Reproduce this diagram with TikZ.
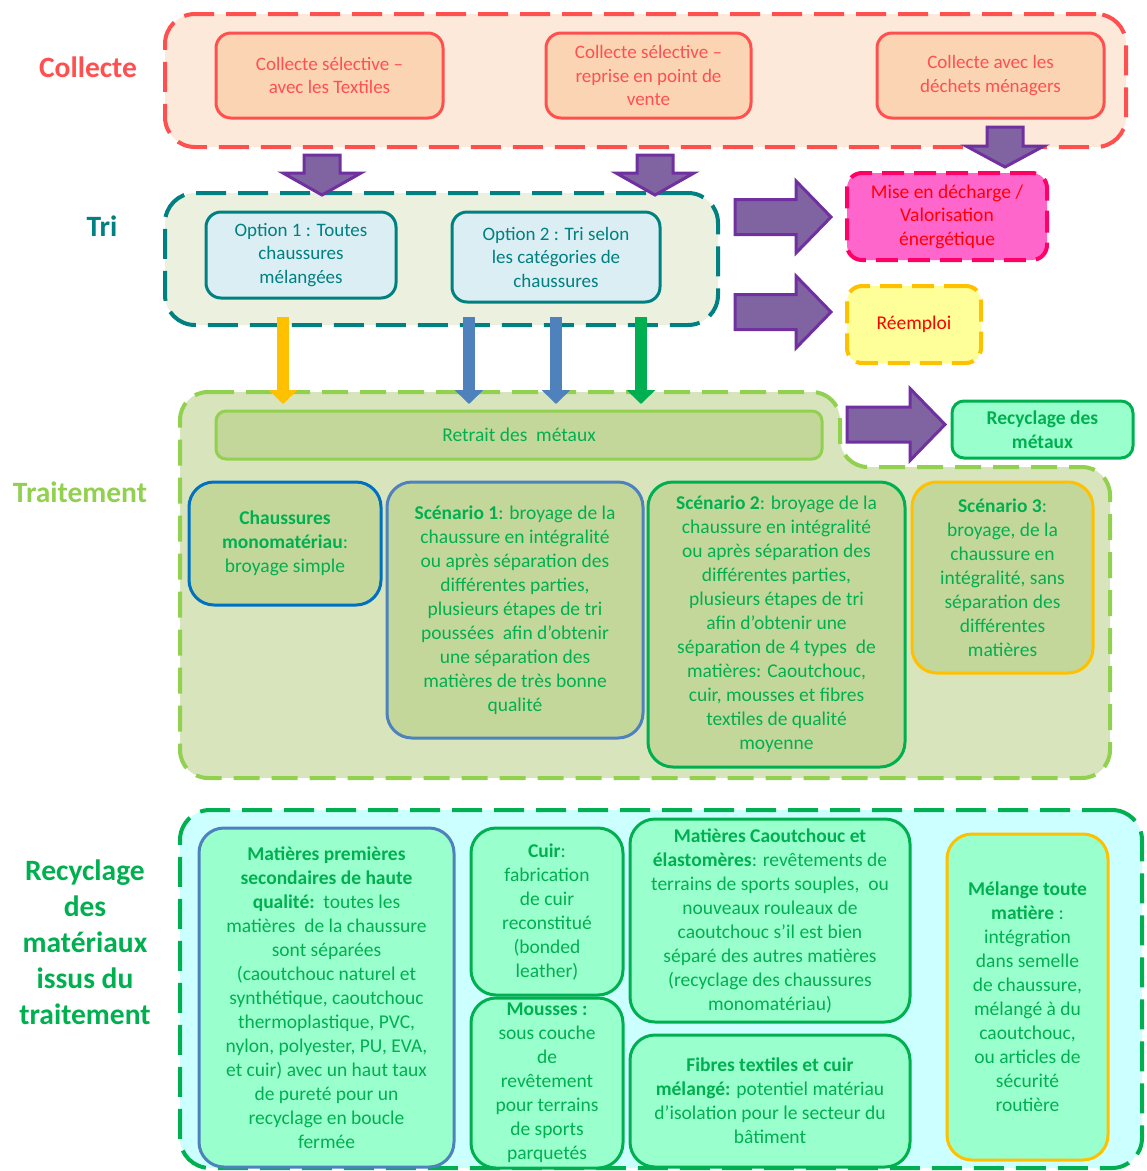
\documentclass[tikz,border=0pt]{standalone}
\usepackage{fontspec}
\setmainfont{Carlito}
\usepackage{tikz}
\usetikzlibrary{arrows.meta}
\definecolor{colred}{HTML}{FF5050}
\definecolor{colbg}{HTML}{FDE9D9}
\definecolor{colpeach}{HTML}{FBD4B4}
\definecolor{triteal}{HTML}{008080}
\definecolor{tribg}{HTML}{EBF1DE}
\definecolor{optblue}{HTML}{DAEEF3}
\definecolor{purpfill}{HTML}{8064A2}
\definecolor{purpline}{HTML}{7030A0}
\definecolor{pinkfill}{HTML}{FF66CC}
\definecolor{pinkline}{HTML}{FF0066}
\definecolor{lemon}{HTML}{FFFF99}
\definecolor{amber}{HTML}{FFC000}
\definecolor{lightgreen}{HTML}{92D050}
\definecolor{traitbg}{HTML}{D8E4BC}
\definecolor{olivebox}{HTML}{C4D79B}
\definecolor{darkgreen}{HTML}{00B050}
\definecolor{deepblue}{HTML}{0070C0}
\definecolor{steelblue}{HTML}{4F81BD}
\definecolor{recycbg}{HTML}{CCFFFF}
\definecolor{mint}{HTML}{99FFCC}

\tikzset{
  every node/.style={align=center, inner sep=2pt},
  stage/.style={font=\fontsize{29.5}{36}\selectfont\bfseries},
  outer/.style={line width=4pt, dash pattern=on 30pt off 12pt, rounded corners=30pt},
  colbox/.style={draw=colred, fill=colpeach, line width=3pt, rounded corners=15pt, text=colred, font=\fontsize{19}{23.5}\selectfont},
  optbox/.style={draw=triteal, fill=optblue, line width=3pt, rounded corners=15pt, text=triteal, font=\fontsize{19}{23.5}\selectfont},
  exitbox/.style={line width=4pt, dash pattern=on 22pt off 10pt, rounded corners=15pt, text=red, font=\fontsize{19.5}{23.5}\selectfont},
  scenbox/.style={fill=olivebox, line width=3pt, rounded corners=25pt, text=darkgreen, font=\fontsize{19.5}{24}\selectfont},
  recbox/.style={fill=mint, line width=3pt, rounded corners=25pt, text=darkgreen, font=\fontsize{19.5}{24}\selectfont},
  bigarrow/.style={fill=purpfill, draw=purpline, line width=3pt},
  flow/.style={line width=12pt, -{Triangle[width=28pt,length=14pt]}},
}

\begin{document}
\begin{tikzpicture}[x=1pt,y=-1pt]
  \newcommand{\downblk}[4]{\draw[bigarrow] (#1-18,#2) -- (#1+18,#2) -- (#1+18,#3) -- (#1+39,#3) -- (#1,#4) -- (#1-39,#3) -- (#1-18,#3) -- cycle;}
  \newcommand{\rightblk}[4]{\draw[bigarrow] (#1,#4-17.5) -- (#2,#4-17.5) -- (#2,#4-36) -- (#3,#4) -- (#2,#4+36) -- (#2,#4+17.5) -- (#1,#4+17.5) -- cycle;}
  \useasboundingbox (0,0) rectangle (1147,1171);

  % stages
  \node[stage, text=colred] (lcol) at (88,67) {Collecte};
  \node[stage, text=triteal] (ltri) at (102,226) {Tri};
  \node[stage, text=lightgreen] (ltrait) at (80,492) {Traitement};
  \node[stage, text=darkgreen] (lrec) at (85,942) {Recyclage\\des\\matériaux\\issus du\\traitement};

  % collecte
  \node[outer, draw=colred, fill=colbg, minimum width=961pt, minimum height=133pt] (col) at (645.5,80.5) {};
  \node[colbox, minimum width=227pt, minimum height=85pt] (c1) at (329.5,75.5) {Collecte sélective –\\avec les Textiles};
  \node[colbox, minimum width=205pt, minimum height=85pt] (c2) at (648.5,75.5) {Collecte sélective –\\reprise en point de\\vente};
  \node[colbox, minimum width=227pt, minimum height=85pt] (c3) at (990.5,75.5) {Collecte avec les\\déchets ménagers};

  % tri
  \node[outer, draw=triteal, fill=tribg, minimum width=553pt, minimum height=132pt] (tri) at (441.5,259) {};
  \node[optbox, minimum width=190pt, minimum height=86pt] (opt1) at (301,255) {Option 1 : Toutes\\chaussures\\mélangées};
  \node[optbox, minimum width=208pt, minimum height=90pt] (opt2) at (556,257) {Option 2 : Tri selon\\les catégories de\\chaussures};

  \node[exitbox, draw=pinkline, fill=pinkfill, minimum width=200pt, minimum height=87pt] (dech) at (947,216.5) {Mise en décharge /\\Valorisation\\énergétique};
  \node[exitbox, draw=amber, fill=lemon, minimum width=134pt, minimum height=77pt] (reem) at (914,324.5) {Réemploi};

  % traitement
  \coordinate (traittop) at (180,392);
  \fill[traitbg, rounded corners=28pt] (180,392) -- (840,392) -- (840,467) -- (1110,467) -- (1110,778) -- (180,778) -- cycle;
  \draw[lightgreen, line width=4pt, dash pattern=on 26pt off 12pt, rounded corners=28pt] (180,392) -- (840,392) -- (840,467) -- (1110,467) -- (1110,778) -- (180,778) -- cycle;
  \node[draw=lightgreen, fill=olivebox, line width=3pt, rounded corners=10pt, text=darkgreen, font=\fontsize{19.5}{24}\selectfont, minimum width=606pt, minimum height=48pt] (retrait) at (519,435) {Retrait des\ \ métaux};
  \node[draw=darkgreen, fill=mint, line width=3pt, rounded corners=12pt, text=darkgreen, font=\fontsize{19.5}{24}\selectfont\bfseries, minimum width=181pt, minimum height=57pt] (recmet) at (1042.5,429.5) {Recyclage des\\métaux};

  \node[scenbox, draw=deepblue, minimum width=192pt, minimum height=123pt] (mono) at (285,543.5) {\textbf{Chaussures}\\\textbf{monomatériau}:\\broyage simple};
  \node[scenbox, draw=steelblue, minimum width=256pt, minimum height=256pt] (s1) at (515,610) {\textbf{Scénario 1}: broyage de la\\chaussure en intégralité\\ou après séparation des\\différentes parties,\\plusieurs étapes de tri\\poussées\ \ afin d’obtenir\\une séparation des\\matières de très bonne\\qualité};
  \node[scenbox, draw=darkgreen, minimum width=257pt, minimum height=285pt] (s2) at (776.5,624.5) {\textbf{Scénario 2}: broyage de la\\chaussure en intégralité\\ou après séparation des\\différentes parties,\\plusieurs étapes de tri\\afin d’obtenir une\\séparation de 4 types\ \ de\\matières: Caoutchouc,\\cuir, mousses et fibres\\textiles de qualité\\moyenne};
  \node[scenbox, draw=amber, minimum width=181pt, minimum height=191pt] (s3) at (1002.5,577.5) {\textbf{Scénario 3}:\\broyage, de la\\chaussure en\\intégralité, sans\\séparation des\\différentes\\matières};

  % recyclage
  \node[outer, draw=darkgreen, fill=recycbg, minimum width=962pt, minimum height=358pt] (recyc) at (661,989) {};
  \node[recbox, draw=steelblue, minimum width=255pt, minimum height=339pt] (mps) at (326.5,997.5) {\textbf{Matières premières}\\\textbf{secondaires de haute}\\\textbf{qualité:}\ \ toutes les\\matières\ \ de la chaussure\\sont séparées\\(caoutchouc naturel et\\synthétique, caoutchouc\\thermoplastique, PVC,\\nylon, polyester, PU, EVA,\\et cuir) avec un haut taux\\de pureté pour un\\recyclage en boucle\\fermée};
  \node[recbox, draw=darkgreen, minimum width=152pt, minimum height=167pt] (cuir) at (547,911.5) {\textbf{Cuir}:\\fabrication\\de cuir\\reconstitué\\(bonded\\leather)};
  \node[recbox, draw=darkgreen, minimum width=152pt, minimum height=170pt] (mousse) at (547,1083) {\textbf{Mousses :}\\sous couche\\de\\revêtement\\pour terrains\\de sports\\parquetés};
  \node[recbox, draw=darkgreen, minimum width=280pt, minimum height=203pt] (caout) at (770,920.5) {\textbf{Matières Caoutchouc et}\\\textbf{élastomères}: revêtements de\\terrains de sports souples,\ \ ou\\nouveaux rouleaux de\\caoutchouc s’il est bien\\séparé des autres matières\\(recyclage des chaussures\\monomatériau)};
  \node[recbox, draw=darkgreen, minimum width=280pt, minimum height=132pt] (fibres) at (770,1101) {\textbf{Fibres textiles et cuir}\\\textbf{mélangé:} potentiel matériau\\d’isolation pour le secteur du\\bâtiment};
  \node[recbox, draw=amber, minimum width=161pt, minimum height=326pt] (melange) at (1027.5,997) {\textbf{Mélange toute}\\\textbf{matière} :\\intégration\\dans semelle\\de chaussure,\\mélangé à du\\caoutchouc,\\ou articles de\\sécurité\\routière};

  % flows
  \downblk{322}{155}{173}{195}
  \downblk{655}{155}{173}{195}
  \downblk{1005}{127}{146}{167}
  \rightblk{735}{796}{831}{217}
  \rightblk{735}{796}{831}{312}
  \rightblk{847}{910}{945}{424.5}

  \draw[flow, amber] ([yshift=10pt]283,0 |- tri.south) -- ([yshift=-12pt]283,0 |- traittop);
  \draw[flow, steelblue] ([yshift=10pt]469,0 |- tri.south) -- ([yshift=-12pt]469,0 |- traittop);
  \draw[flow, steelblue] ([yshift=10pt]556,0 |- tri.south) -- ([yshift=-12pt]556,0 |- traittop);
  \draw[flow, darkgreen] ([yshift=10pt]641,0 |- tri.south) -- ([yshift=-12pt]641,0 |- traittop);
\end{tikzpicture}
\end{document}
